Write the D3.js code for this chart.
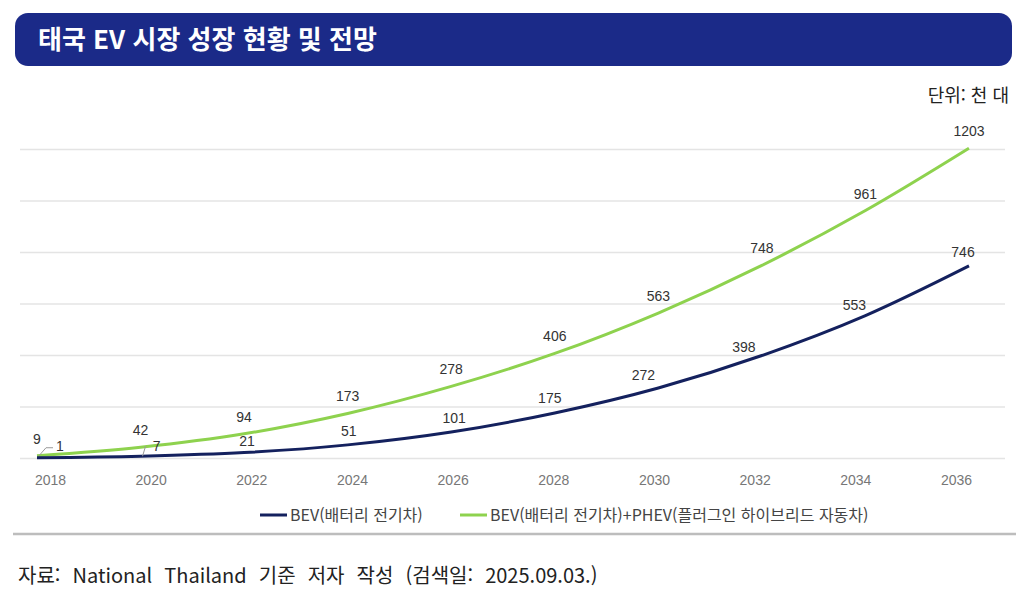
<!DOCTYPE html>
<html lang="ko">
<head>
  <meta charset="UTF-8">
  <title>태국 EV 시장 성장 현황 및 전망</title>
  <script src="https://d3js.org/d3.v7.min.js"></script>
  <style>
    body { margin: 0; background: #fff; }
    .kr { font-family: "Noto Sans CJK KR", "Noto Sans", sans-serif; }
    .num { font-family: "Liberation Sans", Arial, sans-serif; }
    .grid line { stroke: #e4e4e4; stroke-width: 1.3px; }
    .grid .domain { display: none; }
    .xaxis .domain { display: none; }
    .xaxis text { font-family: "Liberation Sans", Arial, sans-serif; font-size: 14px; fill: #777; }
  </style>
</head>
<body>
  <svg id="chart" width="1031" height="606"></svg>
  <script>
    // data (thousand units)
    const years = [2018, 2020, 2022, 2024, 2026, 2028, 2030, 2032, 2034, 2036];
    const bev = [1, 7, 21, 51, 101, 175, 272, 398, 553, 746];
    const bevPhev = [9, 42, 94, 173, 278, 406, 563, 748, 961, 1203];
    const yTicks = [0, 200, 400, 600, 800, 1000, 1200];
    const seriesNames = ["BEV(배터리 전기차)", "BEV(배터리 전기차)+PHEV(플러그인 하이브리드 자동차)"];

    // label nudges for the BEV series (layout only)
    const bevLabelDx = [23, 16, 3, 1, 3, -5, -15, -18, -11, -6];
    const bevLabelDy = [-12, -10, -12, -14, -14, -15, -13, -9, -11, -14];

    const navy = "#14215e";
    const green = "#8ed24e";

    const svg = d3.select("#chart");

    // title bar
    svg.append("rect")
      .attr("x", 15).attr("y", 13)
      .attr("width", 997).attr("height", 53)
      .attr("rx", 13).attr("ry", 13)
      .attr("fill", "#1b2a88");
    svg.append("text")
      .attr("class", "kr")
      .attr("x", 38).attr("y", 49)
      .attr("font-size", 26).attr("font-weight", "bold")
      .attr("fill", "#fff")
      .text("태국 EV 시장 성장 현황 및 전망");

    // unit
    svg.append("text")
      .attr("class", "kr")
      .attr("x", 1009).attr("y", 102)
      .attr("text-anchor", "end")
      .attr("font-size", 18).attr("fill", "#222")
      .text("단위: 천 대");

    // scales
    const xLine = d3.scalePoint().domain(years).range([37, 969]);
    const xTick = d3.scalePoint().domain(years).range([50, 956]);
    const y = d3.scaleLinear().domain([0, 1200]).range([458, 149]);

    // horizontal grid
    svg.append("g")
      .attr("class", "grid")
      .attr("transform", "translate(20,0)")
      .call(d3.axisLeft(y).tickValues(yTicks).tickSize(-985).tickFormat(""))
      .call(g => g.selectAll(".tick line").attr("x1", 0).attr("x2", 985));

    // x axis labels
    svg.append("g")
      .attr("class", "xaxis")
      .attr("transform", "translate(0,472)")
      .call(d3.axisBottom(xTick).tickSize(0).tickPadding(0))
      .call(g => g.selectAll(".tick text").attr("dy", "0.9em"));

    // lines
    const line = d3.line()
      .x((d, i) => xLine(years[i]))
      .y(d => y(d))
      .curve(d3.curveMonotoneX);

    svg.append("path").datum(bevPhev)
      .attr("d", line)
      .attr("fill", "none")
      .attr("stroke", green).attr("stroke-width", 3);

    svg.append("path").datum(bev)
      .attr("d", line)
      .attr("fill", "none")
      .attr("stroke", navy).attr("stroke-width", 3);

    // leader lines for the two smallest BEV labels
    svg.append("polyline")
      .attr("points", [[xLine(2018) + 2, y(bev[0]) - 2], [xLine(2018) + 9, y(bev[0]) - 10], [xLine(2018) + 16, y(bev[0]) - 10]].join(" "))
      .attr("fill", "none").attr("stroke", "#999").attr("stroke-width", 1);
    svg.append("line")
      .attr("x1", xLine(2020) + 2).attr("y1", y(bev[1]))
      .attr("x2", xLine(2020) + 5).attr("y2", y(bev[1]) - 10)
      .attr("stroke", "#999").attr("stroke-width", 1);

    // data labels
    svg.append("g").selectAll("text")
      .data(bevPhev)
      .join("text")
      .attr("class", "num")
      .attr("x", (d, i) => xLine(years[i]))
      .attr("y", d => y(d) - 12)
      .attr("text-anchor", "middle")
      .attr("font-size", 14).attr("fill", "#333")
      .text(d => d);

    svg.append("g").selectAll("text")
      .data(bev)
      .join("text")
      .attr("class", "num")
      .attr("x", (d, i) => xLine(years[i]) + bevLabelDx[i])
      .attr("y", (d, i) => y(d) + bevLabelDy[i] + 5)
      .attr("text-anchor", "middle")
      .attr("font-size", 14).attr("fill", "#333")
      .text(d => d);

    // legend
    const legend = svg.append("g").attr("class", "kr");
    const legendItems = [
      { name: seriesNames[0], color: navy, x: 260 },
      { name: seriesNames[1], color: green, x: 460 }
    ];
    legendItems.forEach(item => {
      legend.append("line")
        .attr("x1", item.x).attr("x2", item.x + 27)
        .attr("y1", 515).attr("y2", 515)
        .attr("stroke", item.color).attr("stroke-width", 3);
      legend.append("text")
        .attr("x", item.x + 30).attr("y", 521)
        .attr("font-size", 16).attr("fill", "#444")
        .text(item.name);
    });

    // bottom separator
    svg.append("line")
      .attr("x1", 13).attr("x2", 1016)
      .attr("y1", 534).attr("y2", 534)
      .attr("stroke", "#bdbdbd").attr("stroke-width", 2.5);

    // source
    svg.append("text")
      .attr("class", "kr")
      .attr("x", 18).attr("y", 583)
      .attr("font-size", 20).attr("fill", "#222")
      .attr("word-spacing", 6.5)
      .text("자료: National Thailand 기준 저자 작성 (검색일: 2025.09.03.)");
  </script>
</body>
</html>
